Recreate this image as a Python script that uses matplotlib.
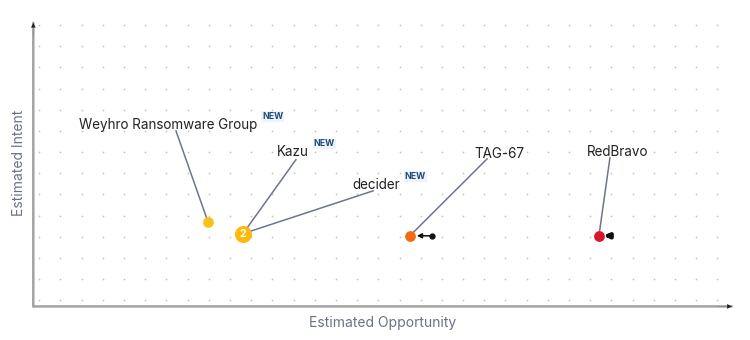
import numpy as np
import matplotlib
matplotlib.use('Agg')
import matplotlib.pyplot as plt
from matplotlib.transforms import offset_copy

plt.rcParams['font.family'] = ['Inter', 'DejaVu Sans']

# threat actors, in grid units (opportunity, intent)
names = ['Weyhro Ransomware Group', 'Kazu', 'decider', 'TAG-67', 'RedBravo']
opportunity = [7.96, 9.61, 9.61, 17.49, 26.41]
intent = [3.71, 3.15, 3.15, 3.05, 3.05]
is_new = [True, True, True, False, False]
colors = ['#F9C21A', '#FDBA0B', '#FDBA0B', '#F76A12', '#D8152B']

# label layout: text anchor offset and leader line start offset (data units)
label_off = [(-6.09, 4.58), (1.61, 3.86), (5.15, 2.31), (3.02, 3.87), (-0.56, 3.96)]
line_off = [(-1.51, 4.29), (2.50, 3.49), (6.14, 2.02), (3.64, 3.63), (0.52, 3.68)]

fig = plt.figure(figsize=(7.5, 3.4), dpi=100)
ax = fig.add_axes([0, 0, 1, 1])
ax.set_xlim(-1.855, 33.54)
ax.set_ylim(-1.868, 14.18)
ax.axis('off')

# dotted background grid
gx, gy = np.meshgrid(np.arange(33), np.arange(14))
ax.scatter(gx.ravel(), gy.ravel(), s=1.6, color='#C4C4C4', lw=0, zorder=0)

# axes with arrows
ax0 = -0.283
for xy in [(32.68, ax0), (ax0, 13.1)]:
    ax.annotate('', xy=xy, xytext=(ax0, ax0),
                arrowprops=dict(arrowstyle='-', color='#A3A3A3', lw=1.8,
                                shrinkA=0, shrinkB=0))
ax.annotate('', xy=(32.68, ax0), xytext=(32.0, ax0),
            arrowprops=dict(arrowstyle='-|>', color='#222222', lw=0.1,
                            shrinkA=0, shrinkB=0, mutation_scale=8))
ax.annotate('', xy=(ax0, 13.1), xytext=(ax0, 12.5),
            arrowprops=dict(arrowstyle='-|>', color='#222222', lw=0.1,
                            shrinkA=0, shrinkB=0, mutation_scale=8))
ax.text(16.22, -1.05, 'Estimated Opportunity', ha='center', va='center',
        fontsize=10, color='#6B7287')
ax.text(-0.98, 6.5, 'Estimated Intent', ha='center', va='center',
        rotation=90, fontsize=10, color='#6B7287')

seen = {}
for i, n in enumerate(names):
    x, y = opportunity[i], intent[i]
    tx, ty = x + label_off[i][0], y + label_off[i][1]
    lx, ly = x + line_off[i][0], y + line_off[i][1]
    ax.plot([lx, x], [ly, y], color='#6D7590', lw=1.1, zorder=2)
    t = ax.text(tx, ty, n, ha='left', va='center', fontsize=9.7,
                color='#222222', zorder=4)
    if is_new[i]:
        ax.annotate('NEW', xy=(1, 0.75), xycoords=t, xytext=(3.5, 0),
                    textcoords='offset points', ha='left', va='bottom',
                    fontsize=6.3, fontweight='bold', color='#1E4B7A',
                    bbox=dict(boxstyle='square,pad=0.1', fc='#EEF4FA',
                              ec='none'), zorder=4)
    seen.setdefault((x, y), []).append(i)

for (x, y), idx in seen.items():
    c = colors[idx[0]]
    if len(idx) > 1:
        ax.scatter([x], [y], s=150, color=c, lw=0, zorder=5)
        ax.text(x, y, str(len(idx)), ha='center', va='center', fontsize=7.5,
                fontweight='bold', color='white', zorder=6)
    else:
        ax.scatter([x], [y], s=60, color=c, lw=0, zorder=5)

# trend arrows
i = names.index('TAG-67')
x, y = opportunity[i], intent[i]
ax.annotate('', xy=(x, y), xytext=(16, 0), textcoords='offset points',
            arrowprops=dict(arrowstyle='-|>', color='#111111', lw=1.1,
                            shrinkA=0, shrinkB=5, mutation_scale=7), zorder=6)
tr = offset_copy(ax.transData, fig=fig, x=16, y=0, units='points')
ax.plot([x], [y], 'o', ms=3.5, color='#111111', transform=tr, zorder=6)

i = names.index('RedBravo')
x, y = opportunity[i], intent[i]
ax.annotate('', xy=(x, y), xytext=(8.5, 0), textcoords='offset points',
            arrowprops=dict(arrowstyle='-|>', color='#111111', lw=3,
                            shrinkA=0, shrinkB=3.5, mutation_scale=6), zorder=6)

fig.savefig('out.png', dpi=100)
